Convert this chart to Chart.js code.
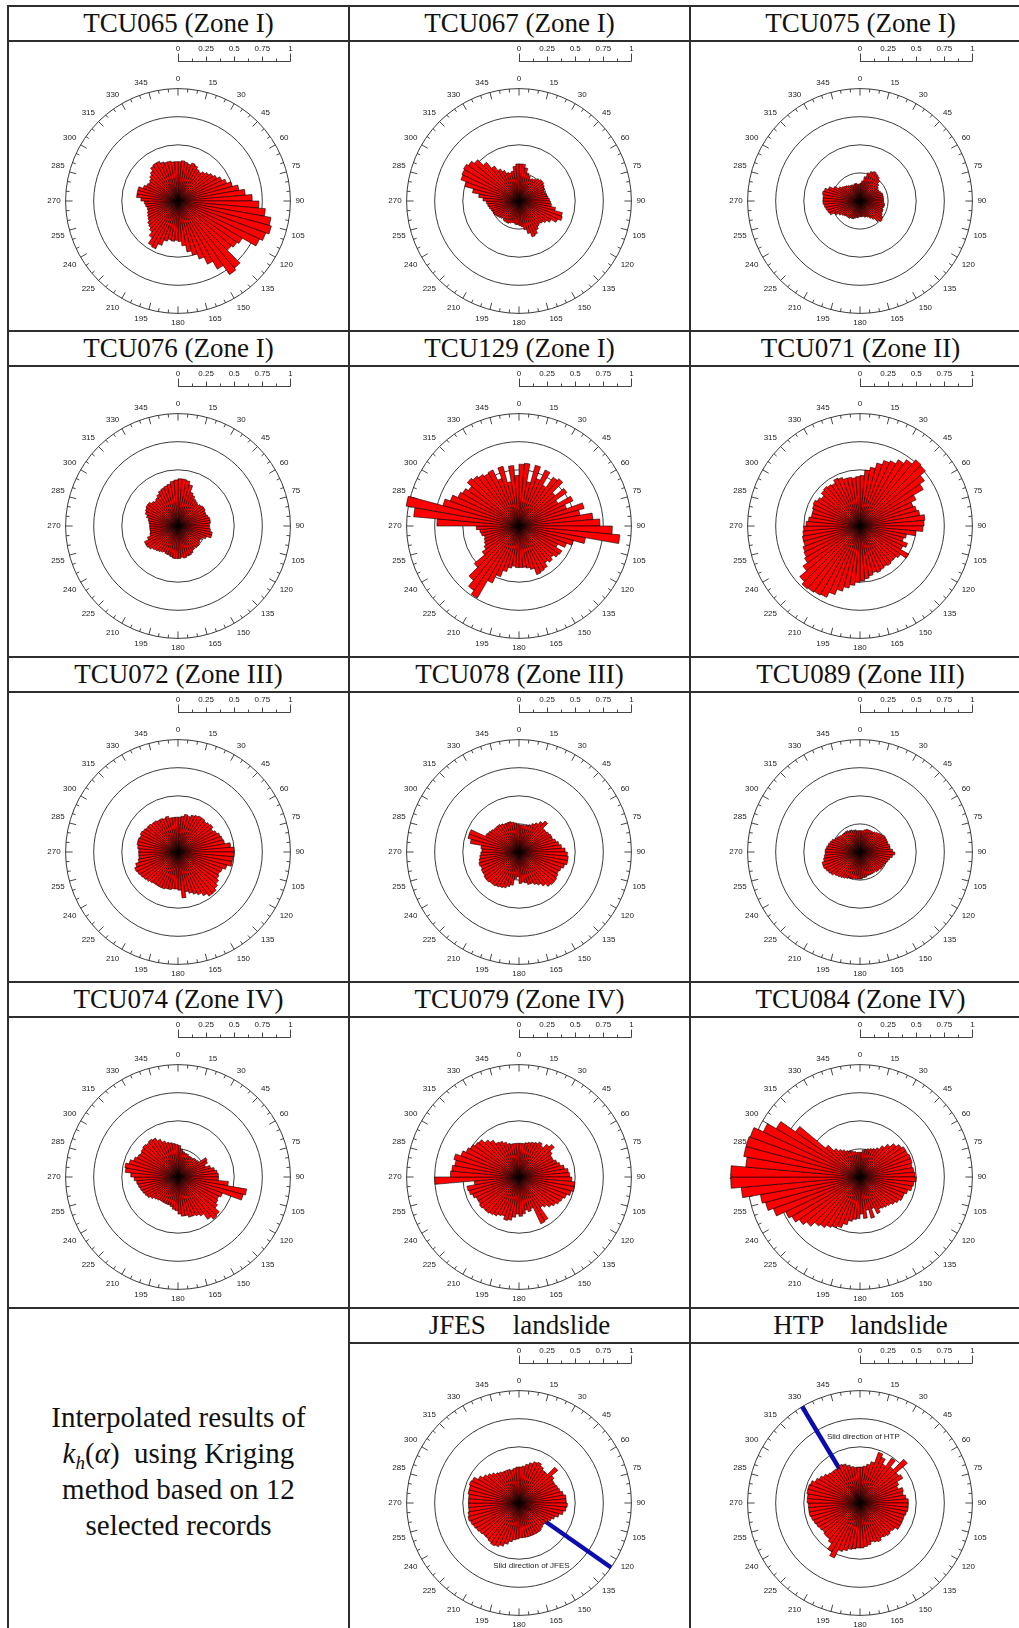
<!DOCTYPE html>
<html>
<head>
<meta charset="utf-8">
<title>kh rose diagrams</title>
<script src="https://cdn.jsdelivr.net/npm/chart.js@4.4.1/dist/chart.umd.min.js"></script>
<style>
  html, body { margin: 0; padding: 0; background: #fff; }
  #sheet { position: relative; width: 1019px; height: 1628px; overflow: hidden; background: #fff; }
  .title { position: absolute; width: 341px; height: 35px; line-height: 35px; text-align: center;
           font-family: "Liberation Serif", "Times New Roman", serif; font-size: 27px; color: #111;
           white-space: pre; z-index: 2; }
  .rose { position: absolute; z-index: 1; }
  .hline { position: absolute; height: 2px; background: #2e2e2e; z-index: 5; }
  .vline { position: absolute; width: 2px; background: #2e2e2e; z-index: 5; }
  .note { position: absolute; display: flex; align-items: center; justify-content: center; text-align: center;
          font-family: "Liberation Serif", "Times New Roman", serif; font-size: 29px; line-height: 36px; color: #111; z-index: 2; }
  .note .k { font-style: italic; }
  .note sub { font-size: 19px; line-height: 0; vertical-align: -6px; font-style: italic; }
</style>
</head>
<body>
<div id="sheet"></div>
<script>
// Direction bins (degrees clockwise from north), 5 degree sectors
const directions = [0, 5, 10, 15, 20, 25, 30, 35, 40, 45, 50, 55, 60, 65, 70, 75, 80, 85,
  90, 95, 100, 105, 110, 115, 120, 125, 130, 135, 140, 145, 150, 155, 160, 165, 170, 175,
  180, 185, 190, 195, 200, 205, 210, 215, 220, 225, 230, 235, 240, 245, 250, 255, 260, 265,
  270, 275, 280, 285, 290, 295, 300, 305, 310, 315, 320, 325, 330, 335, 340, 345, 350, 355];

// Ring values of the polar grid and labels of the length bar
const ringTicks = [0.25, 0.5, 0.75, 1];
const barTicks = [0, 0.25, 0.5, 0.75, 1];

// kh(alpha) per direction bin for each station
const tcu065 = [0.35,0.36,0.35,0.34,0.36,0.35, 0.33,0.32,0.34,0.36,0.38,0.40, 0.43,0.46,0.50,0.55,0.60,0.66,
  0.72,0.78,0.84,0.86,0.83,0.80, 0.66,0.64,0.62,0.78,0.80,0.70, 0.62,0.55,0.50,0.46,0.40,0.36,
  0.35,0.36,0.35,0.37,0.42,0.47, 0.46,0.40,0.36,0.34,0.33,0.31, 0.30,0.29,0.28,0.28,0.29,0.30,
  0.33,0.37,0.37,0.37,0.33,0.31, 0.30,0.31,0.33,0.35,0.38,0.39, 0.39,0.37,0.36,0.36,0.35,0.35];
const tcu067 = [0.33,0.33,0.30,0.26,0.24,0.22, 0.23,0.24,0.26,0.27,0.27,0.26, 0.25,0.24,0.24,0.25,0.26,0.27,
  0.28,0.29,0.33,0.40,0.41,0.38, 0.33,0.30,0.28,0.27,0.28,0.30, 0.33,0.34,0.30,0.26,0.23,0.22,
  0.21,0.21,0.20,0.20,0.21,0.22, 0.22,0.22,0.21,0.22,0.23,0.24, 0.25,0.25,0.26,0.27,0.28,0.29,
  0.32,0.36,0.42,0.50,0.55,0.56, 0.57,0.55,0.52,0.45,0.38,0.33, 0.30,0.27,0.26,0.27,0.31,0.33];
const tcu075 = [0.16,0.18,0.22,0.26,0.28,0.29, 0.28,0.27,0.25,0.22,0.20,0.19, 0.19,0.20,0.21,0.21,0.21,0.21,
  0.21,0.22,0.22,0.21,0.22,0.22, 0.23,0.25,0.26,0.24,0.20,0.18, 0.16,0.15,0.15,0.14,0.14,0.14,
  0.14,0.15,0.15,0.16,0.17,0.17, 0.18,0.18,0.18,0.19,0.20,0.22, 0.25,0.29,0.30,0.31,0.32,0.33,
  0.33,0.33,0.34,0.33,0.30,0.26, 0.22,0.20,0.19,0.18,0.17,0.16, 0.16,0.15,0.16,0.16,0.15,0.15];
const tcu076 = [0.42,0.42,0.41,0.38,0.32,0.30, 0.28,0.27,0.26,0.27,0.28,0.28, 0.27,0.27,0.28,0.29,0.29,0.28,
  0.28,0.29,0.31,0.31,0.27,0.24, 0.23,0.24,0.25,0.25,0.24,0.25, 0.27,0.28,0.28,0.29,0.28,0.29,
  0.29,0.29,0.28,0.27,0.27,0.26, 0.27,0.28,0.29,0.30,0.32,0.33, 0.33,0.29,0.26,0.25,0.25,0.25,
  0.25,0.26,0.27,0.29,0.31,0.32, 0.33,0.33,0.31,0.30,0.31,0.33, 0.35,0.36,0.37,0.38,0.40,0.41];
const tcu129 = [0.55,0.56,0.40,0.56,0.45,0.55, 0.42,0.53,0.55,0.42,0.52,0.40, 0.53,0.45,0.60,0.55,0.66,0.72,
  0.83,0.90,0.60,0.50,0.45,0.38, 0.44,0.43,0.40,0.42,0.40,0.44, 0.45,0.46,0.40,0.38,0.37,0.37,
  0.37,0.36,0.38,0.42,0.48,0.56, 0.74,0.70,0.63,0.52,0.40,0.36, 0.34,0.33,0.32,0.34,0.35,0.38,
  0.73,0.94,1.02,0.70,0.65,0.60, 0.58,0.55,0.60,0.58,0.56,0.54, 0.55,0.45,0.55,0.40,0.54,0.45];
const tcu071 = [0.45,0.50,0.53,0.58,0.62,0.64, 0.68,0.72,0.77,0.76,0.70,0.65, 0.55,0.50,0.52,0.54,0.58,0.57,
  0.56,0.50,0.42,0.40,0.45,0.42, 0.50,0.44,0.42,0.42,0.43,0.42, 0.43,0.44,0.43,0.45,0.47,0.49,
  0.50,0.53,0.56,0.60,0.65,0.70, 0.71,0.72,0.73,0.70,0.62,0.57, 0.55,0.54,0.52,0.52,0.51,0.50,
  0.48,0.46,0.44,0.44,0.45,0.46, 0.44,0.42,0.45,0.46,0.45,0.44, 0.47,0.46,0.44,0.44,0.43,0.44];
const tcu072 = [0.31,0.32,0.34,0.33,0.35,0.36, 0.37,0.37,0.36,0.37,0.38,0.36, 0.38,0.40,0.41,0.42,0.47,0.50,
  0.50,0.49,0.49,0.45,0.42,0.41, 0.42,0.44,0.46,0.48,0.48,0.45, 0.42,0.40,0.38,0.36,0.41,0.34,
  0.33,0.33,0.34,0.34,0.35,0.35, 0.35,0.35,0.36,0.37,0.38,0.39, 0.40,0.41,0.39,0.36,0.35,0.35,
  0.35,0.36,0.37,0.37,0.36,0.37, 0.36,0.35,0.35,0.34,0.34,0.33, 0.33,0.32,0.33,0.31,0.31,0.31];
const tcu078 = [0.24,0.24,0.24,0.25,0.26,0.28, 0.30,0.33,0.36,0.30,0.30,0.31, 0.32,0.32,0.34,0.36,0.38,0.41,
  0.43,0.44,0.44,0.42,0.40,0.39, 0.40,0.41,0.41,0.40,0.37,0.34, 0.32,0.30,0.30,0.28,0.27,0.28,
  0.22,0.24,0.30,0.32,0.34,0.35, 0.36,0.37,0.37,0.38,0.38,0.37, 0.37,0.36,0.37,0.36,0.35,0.34,
  0.33,0.34,0.44,0.47,0.47,0.33, 0.32,0.31,0.30,0.30,0.30,0.29, 0.28,0.28,0.28,0.27,0.26,0.25];
const tcu089 = [0.19,0.19,0.20,0.21,0.21,0.21, 0.21,0.22,0.23,0.24,0.25,0.26, 0.26,0.26,0.26,0.27,0.27,0.29,
  0.31,0.29,0.27,0.26,0.25,0.24, 0.24,0.24,0.23,0.23,0.22,0.22, 0.22,0.22,0.22,0.23,0.23,0.24,
  0.24,0.24,0.24,0.25,0.25,0.26, 0.27,0.28,0.29,0.30,0.32,0.33, 0.34,0.35,0.35,0.33,0.32,0.31,
  0.31,0.30,0.29,0.28,0.27,0.25, 0.24,0.23,0.22,0.22,0.22,0.22, 0.21,0.21,0.20,0.20,0.19,0.19];
const tcu074 = [0.28,0.25,0.23,0.22,0.22,0.21, 0.21,0.21,0.22,0.22,0.23,0.30, 0.29,0.26,0.30,0.33,0.35,0.36,
  0.36,0.45,0.62,0.60,0.42,0.40, 0.41,0.43,0.48,0.49,0.46,0.40, 0.38,0.37,0.37,0.35,0.35,0.33,
  0.30,0.29,0.27,0.26,0.26,0.26, 0.26,0.26,0.27,0.28,0.30,0.32, 0.33,0.34,0.35,0.36,0.37,0.39,
  0.42,0.47,0.48,0.45,0.42,0.40, 0.39,0.40,0.41,0.40,0.41,0.40, 0.37,0.34,0.32,0.31,0.30,0.29];
const tcu079 = [0.30,0.30,0.31,0.32,0.33,0.34, 0.36,0.34,0.38,0.41,0.36,0.34, 0.34,0.36,0.38,0.41,0.44,0.45,
  0.47,0.50,0.50,0.48,0.45,0.43, 0.42,0.40,0.38,0.35,0.33,0.45, 0.46,0.30,0.32,0.30,0.33,0.35,
  0.33,0.36,0.39,0.40,0.37,0.38, 0.40,0.41,0.42,0.42,0.43,0.42, 0.42,0.44,0.46,0.47,0.40,0.75,
  0.61,0.60,0.58,0.60,0.55,0.52, 0.50,0.48,0.47,0.43,0.40,0.36, 0.35,0.33,0.31,0.30,0.30,0.30];
const tcu084 = [0.22,0.24,0.25,0.26,0.27,0.28, 0.30,0.34,0.38,0.42,0.45,0.47, 0.47,0.48,0.48,0.47,0.48,0.49,
  0.50,0.48,0.47,0.44,0.42,0.42, 0.40,0.38,0.36,0.35,0.34,0.33, 0.36,0.30,0.38,0.30,0.37,0.33,
  0.37,0.38,0.40,0.44,0.48,0.50, 0.52,0.55,0.57,0.62,0.66,0.70, 0.73,0.82,0.87,0.90,1.06,1.15,
  1.15,1.02,1.05,1.05,1.04,0.95, 0.86,0.70,0.40,0.33,0.30,0.28, 0.26,0.25,0.24,0.23,0.22,0.22];
const jfes = [0.32,0.33,0.35,0.37,0.39,0.40, 0.38,0.36,0.36,0.45,0.38,0.36, 0.36,0.37,0.38,0.40,0.42,0.42,
  0.43,0.42,0.40,0.37,0.34,0.32, 0.30,0.29,0.29,0.30,0.31,0.31, 0.31,0.31,0.31,0.31,0.31,0.31,
  0.32,0.33,0.35,0.38,0.41,0.43, 0.44,0.43,0.42,0.42,0.43,0.44, 0.45,0.46,0.47,0.46,0.45,0.45,
  0.45,0.45,0.46,0.46,0.47,0.46, 0.42,0.39,0.37,0.35,0.33,0.32, 0.31,0.31,0.31,0.30,0.31,0.32];
const htp = [0.32,0.33,0.35,0.38,0.48,0.45, 0.40,0.49,0.42,0.55,0.42,0.44, 0.38,0.36,0.40,0.39,0.41,0.43,
  0.43,0.43,0.42,0.41,0.41,0.41, 0.41,0.38,0.37,0.38,0.37,0.36, 0.38,0.37,0.36,0.38,0.39,0.40,
  0.40,0.41,0.42,0.44,0.46,0.54, 0.50,0.44,0.42,0.42,0.41,0.42, 0.43,0.44,0.45,0.46,0.46,0.46,
  0.47,0.47,0.48,0.48,0.47,0.44, 0.42,0.40,0.38,0.37,0.37,0.36, 0.38,0.37,0.35,0.33,0.32,0.32];

// Observed slide directions of the two landslides (degrees)
const slideJFES = 125;
const slideHTP = 329;

// Table layout
const colLeft = [8, 349, 690];
const rowTop = [6, 331, 657, 982, 1308];
const CELL_W = 341, TITLE_H = 35, ROSE_H = 290;

const panelDefs = [
  { row: 0, col: 0, title: 'TCU065 (Zone I)', values: tcu065 },
  { row: 0, col: 1, title: 'TCU067 (Zone I)', values: tcu067 },
  { row: 0, col: 2, title: 'TCU075 (Zone I)', values: tcu075 },
  { row: 1, col: 0, title: 'TCU076 (Zone I)', values: tcu076 },
  { row: 1, col: 1, title: 'TCU129 (Zone I)', values: tcu129 },
  { row: 1, col: 2, title: 'TCU071 (Zone II)', values: tcu071 },
  { row: 2, col: 0, title: 'TCU072 (Zone III)', values: tcu072 },
  { row: 2, col: 1, title: 'TCU078 (Zone III)', values: tcu078 },
  { row: 2, col: 2, title: 'TCU089 (Zone III)', values: tcu089 },
  { row: 3, col: 0, title: 'TCU074 (Zone IV)', values: tcu074 },
  { row: 3, col: 1, title: 'TCU079 (Zone IV)', values: tcu079 },
  { row: 3, col: 2, title: 'TCU084 (Zone IV)', values: tcu084 },
  { row: 4, col: 1, title: 'JFES    landslide', values: jfes,
    decor: { slide: slideJFES, text: 'Slid direction of JFES', textAt: [0.11, 0.56] } },
  { row: 4, col: 2, title: 'HTP    landslide', values: htp,
    decor: { slide: slideHTP, text: 'Slid direction of HTP', textAt: [0.03, -0.59] } }
];

const LABEL_FONT = '"Liberation Sans", Arial, sans-serif';

// Tick marks on the outer ring, length bar, slide direction line and caption
const roseDecor = {
  id: 'roseDecor',
  beforeDatasetsDraw(chart, args, opts) {
    const s = chart.scales.r, ctx = chart.ctx;
    const R = s.getDistanceFromCenterForValue(1);
    ctx.save();
    ctx.strokeStyle = '#333';
    ctx.lineWidth = 0.9;
    directions.forEach((deg, i) => {
      const len = deg % 15 === 0 ? 7 : 3.5;
      const a = s.getPointPosition(i, R);
      const b = s.getPointPosition(i, R - len);
      ctx.beginPath(); ctx.moveTo(a.x, a.y); ctx.lineTo(b.x, b.y); ctx.stroke();
    });
    if (opts.slide !== undefined) {
      const idx = opts.slide / (360 / directions.length);
      const p = s.getPointPosition(idx, R);
      ctx.strokeStyle = '#0b0bb0';
      ctx.lineWidth = 4.5;
      ctx.beginPath(); ctx.moveTo(s.xCenter, s.yCenter); ctx.lineTo(p.x, p.y); ctx.stroke();
    }
    ctx.restore();
  },
  afterDraw(chart, args, opts) {
    const s = chart.scales.r, ctx = chart.ctx;
    const unit = s.getDistanceFromCenterForValue(1) - s.getDistanceFromCenterForValue(0);
    const x0 = s.xCenter;
    const yb = Math.round(s.yCenter - 1.25 * unit) + 0.5;
    ctx.save();
    ctx.strokeStyle = '#444';
    ctx.lineWidth = 1;
    ctx.beginPath(); ctx.moveTo(x0, yb); ctx.lineTo(x0 + unit, yb); ctx.stroke();
    for (let k = 0; k <= 8; k++) {
      const x = Math.round(x0 + unit * k / 8) + 0.5;
      const h = (k === 0 || k === 8) ? 8 : (k % 2 === 0 ? 5 : 3);
      ctx.beginPath(); ctx.moveTo(x, yb); ctx.lineTo(x, yb - h); ctx.stroke();
    }
    ctx.fillStyle = '#222';
    ctx.font = '8px ' + LABEL_FONT;
    ctx.textAlign = 'center';
    ctx.textBaseline = 'middle';
    barTicks.forEach(v => ctx.fillText(String(v), x0 + unit * v, yb - 13));
    if (opts.text) {
      ctx.fillStyle = '#222';
      ctx.fillText(opts.text, s.xCenter + opts.textAt[0] * unit, s.yCenter + opts.textAt[1] * unit);
    }
    ctx.restore();
  }
};

function makeRose(canvas, values, decor) {
  return new Chart(canvas, {
    type: 'polarArea',
    data: {
      labels: directions,
      datasets: [{
        data: values,
        backgroundColor: '#ff0000',
        borderColor: '#000',
        borderWidth: 0.6
      }]
    },
    options: {
      responsive: false,
      animation: false,
      events: [],
      layout: { padding: { top: 34, bottom: 2, left: 0, right: 0 } },
      plugins: {
        legend: { display: false },
        tooltip: { enabled: false },
        roseDecor: decor || {}
      },
      scales: {
        r: {
          min: 0,
          max: 1,
          startAngle: 0,
          afterBuildTicks: (scale) => { scale.ticks = [0].concat(ringTicks).map(v => ({ value: v })); },
          ticks: { display: false, stepSize: 0.25 },
          grid: { circular: true, color: '#3a3a3a', lineWidth: 1 },
          angleLines: { display: false },
          pointLabels: {
            display: true,
            padding: 5,
            color: '#222',
            font: { family: LABEL_FONT, size: 8 },
            callback: (label) => (label % 15 === 0 ? String(label) : '')
          }
        }
      }
    },
    plugins: [roseDecor]
  });
}

const sheet = document.getElementById('sheet');

function addLine(cls, x, y, w, h) {
  const d = document.createElement('div');
  d.className = cls;
  d.style.left = x + 'px'; d.style.top = y + 'px';
  if (w) d.style.width = w + 'px';
  if (h) d.style.height = h + 'px';
  sheet.appendChild(d);
}

// Grid lines of the table
rowTop.forEach((y, r) => {
  addLine('hline', 7, y - 1, 1030, 0);
  const tx = r === 4 ? colLeft[1] : 7;
  addLine('hline', tx, y + TITLE_H - 1, 1031 - tx, 0);
});
colLeft.concat([colLeft[2] + CELL_W]).forEach(x => addLine('vline', x - 1, 5, 0, 1630));

panelDefs.forEach(p => {
  const x = colLeft[p.col], y = rowTop[p.row];
  const t = document.createElement('div');
  t.className = 'title';
  t.style.left = x + 'px'; t.style.top = y + 'px';
  t.textContent = p.title;
  sheet.appendChild(t);
  const c = document.createElement('canvas');
  c.className = 'rose';
  c.width = CELL_W; c.height = ROSE_H;
  c.style.left = x + 'px'; c.style.top = (y + TITLE_H) + 'px';
  sheet.appendChild(c);
  makeRose(c, p.values, p.decor);
});

// Caption cell
const note = document.createElement('div');
note.className = 'note';
note.style.left = colLeft[0] + 'px';
note.style.top = rowTop[4] + 'px';
note.style.width = CELL_W + 'px';
note.style.height = '326px';
note.innerHTML = '<div>Interpolated results of<br><span class="k">k</span><sub>h</sub>(<span class="k">α</span>)&nbsp;&nbsp;using Kriging<br>method based on 12<br>selected records</div>';
sheet.appendChild(note);
</script>
</body>
</html>
